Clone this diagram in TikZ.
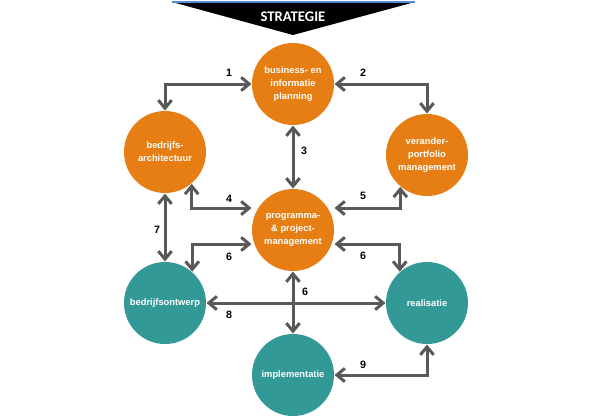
\documentclass[tikz,border=0pt]{standalone}
\usepackage{fontspec}
\setmainfont{Liberation Sans}
\newfontfamily\bannerfont{Carlito}
\usetikzlibrary{arrows.meta}

\definecolor{oranje}{RGB}{230,126,20}
\definecolor{petrol}{RGB}{51,153,151}
\definecolor{grijs}{RGB}{89,89,89}
\definecolor{lijnblauw}{RGB}{84,141,212}

\tikzset{every picture/.style={line width=0.75pt}}
\tikzset{
  fase/.style={circle, minimum size=61.5pt, inner sep=0pt, align=center, text=white,
    font=\bfseries\fontsize{7}{9.6}\selectfont},
  strategisch/.style={fase, fill=oranje},
  uitvoerend/.style={fase, fill=petrol},
  pijl/.style={draw=grijs, line width=2.25pt,
    {Straight Barb[length=6pt,width=10pt]}-{Straight Barb[length=6pt,width=10pt]}},
  nummer/.style={inner sep=0.75pt, font=\bfseries\fontsize{8}{9}\selectfont}
}

\begin{document}
\begin{tikzpicture}[x=0.75pt,y=0.75pt,yscale=-1,xscale=1]
\useasboundingbox (0,0) rectangle (600,419);

%Shape: Triangle [banner]
\fill [black] (172,2) -- (415,2) -- (293,35) -- cycle ;
\draw [color=lijnblauw, line width=1pt] (172,2) -- (415,2) ;
% Text Node
\node (strategie) at (293,17) [text=white, font=\bannerfont\bfseries\fontsize{11}{12}\selectfont] {STRATEGIE};

%Shape: Circles
\node (bip) at (293,84) [strategisch] {business- en\\informatie\\planning};
\node (arch) at (165,152) [strategisch] {bedrijfs-\\architectuur};
\node (vpm) at (427,155) [strategisch] {verander-\\portfolio\\management};
\node (ppm) at (293,230) [strategisch] {programma-\\\& project-\\management};
\node (bdo) at (165,303) [uitvoerend] {bedrijfsontwerp};
\node (rea) at (427,303) [uitvoerend] {realisatie};
\node (imp) at (293,375) [uitvoerend] {implementatie};

%Connectors
\draw [pijl] (arch.north) |- (bip.west) ;
\draw [pijl] (bip.east) -| (vpm.north) ;
\draw [pijl] (bip.south) -- (ppm.north) ;
\draw [pijl] (arch.-50) |- ([yshift=-16.5pt]ppm.west) ;
\draw [pijl] (vpm.-130) |- ([yshift=-16.5pt]ppm.east) ;
\draw [pijl] (arch.south) -- (bdo.north) ;
\draw [pijl] ([yshift=10.5pt]ppm.west) -| (bdo.49) ;
\draw [pijl] ([yshift=10.5pt]ppm.east) -| (rea.131) ;
\draw [pijl] (ppm.south) -- (imp.north) ;
\draw [pijl] (bdo.east) -- (rea.west) ;
\draw [pijl] (imp.east) -| (rea.south) ;

% Text Nodes
\node (n1) at (229,73) [nummer] {1};
\node (n2) at (363,73) [nummer] {2};
\node (n3) at (304,151) [nummer] {3};
\node (n4) at (229,199) [nummer] {4};
\node (n5) at (363,196) [nummer] {5};
\node (n7) at (157,230) [nummer] {7};
\node (n6l) at (229,257) [nummer] {6};
\node (n6r) at (363,256) [nummer] {6};
\node (n6m) at (305,292) [nummer] {6};
\node (n8) at (229,315) [nummer] {8};
\node (n9) at (363,365) [nummer] {9};

\end{tikzpicture}
\end{document}
